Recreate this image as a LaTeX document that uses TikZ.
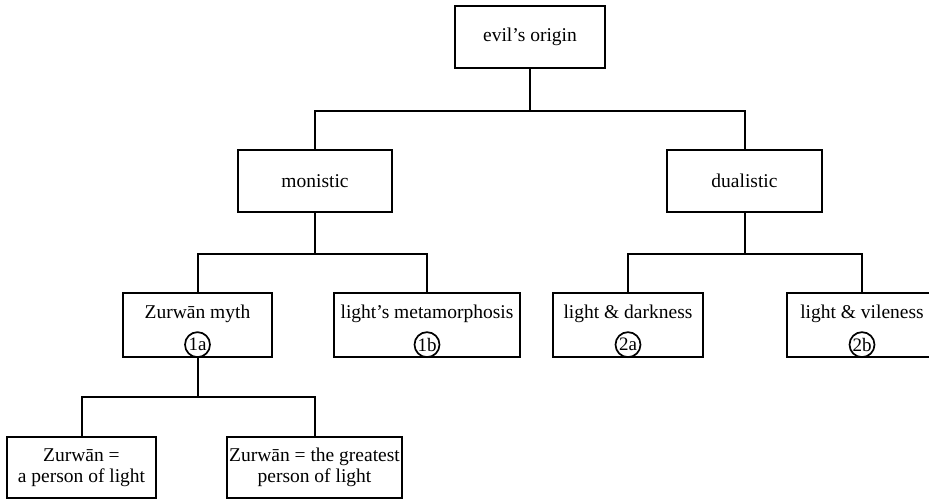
\documentclass[tikz,border=0pt]{standalone}
\usepackage{fontspec}
\setmainfont{Liberation Serif}
\usepackage{tikz}

\tikzset{
    box/.style={draw, line width=2pt, inner sep=0pt, minimum height=62pt,
        align=center, font=\fontsize{19.5}{21}\selectfont},
    tagbox/.style={box, minimum height=64pt, text height=25pt, text depth=39pt},
    tag/.style={draw, circle, line width=1.7pt, inner sep=0.5pt, minimum size=25pt,
        anchor=south, font=\fontsize{19}{19}\selectfont},
    link/.style={draw, line width=2pt}
}

\begin{document}
\begin{tikzpicture}[x=1pt, y=1pt]
\useasboundingbox (0,0) rectangle (929,-500);
\begin{scope}

    \node[box, minimum width=150pt] (origin) at (530, -37) {evil's origin};
    % second level
    \node[box, minimum width=154pt] (mono) at (315, -181) {monistic};
    \node[box, minimum width=155pt] (dual) at (744.5, -181) {dualistic};
    % third level
    \node[tagbox, minimum width=149pt] (zmyth) at (197.5, -325) {Zurwān myth};
    \node[tagbox, minimum width=186pt] (metam) at (427, -325) {light's metamorphosis};
    \node[tagbox, minimum width=150pt] (dark) at (628, -325) {light \& darkness};
    \node[tagbox, minimum width=150pt] (vile) at (862, -325) {light \& vileness};
    \node[tag] (t1a) at (zmyth.south) {1a};
    \node[tag] (t1b) at (metam.south) {1b};
    \node[tag] (t2a) at (dark.south) {2a};
    \node[tag] (t2b) at (vile.south) {2b};
    % fourth level
    \node[box, minimum width=149pt, minimum height=61pt] (zperson) at (81.5, -467.5) {Zurwān =\\a person of light};
    \node[box, minimum width=175pt, minimum height=61pt] (zgreat) at (314.5, -467.5) {Zurwān = the greatest\\person of light};
\end{scope}

\begin{scope}[every path/.style={link}]
    \path (origin.south) -- ++(0, -42) -| (mono.north);
    \path (origin.south) -- ++(0, -42) -| (dual.north);
    % second level
    \path (mono.south) -- ++(0, -41) -| (zmyth.north);
    \path (mono.south) -- ++(0, -41) -| (metam.north);
    \path (dual.south) -- ++(0, -41) -| (dark.north);
    \path (dual.south) -- ++(0, -41) -| (vile.north);
    % third level
    \path (zmyth.south) -- ++(0, -39) -| (zperson.north);
    \path (zmyth.south) -- ++(0, -39) -| (zgreat.north);
\end{scope}
\end{tikzpicture}
\end{document}
